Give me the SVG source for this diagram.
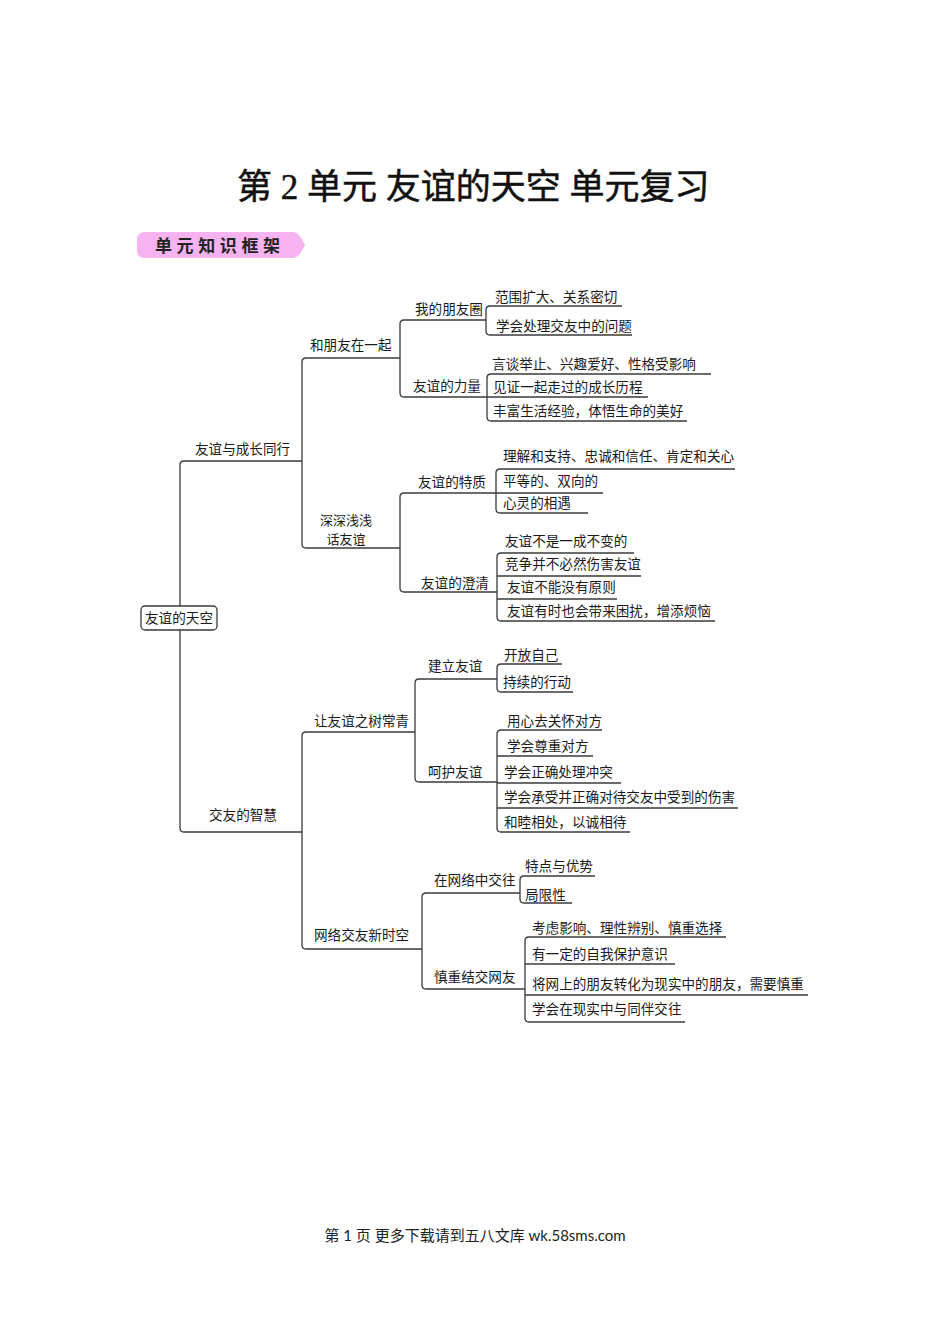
<svg xmlns="http://www.w3.org/2000/svg" width="950" height="1344" viewBox="0 0 950 1344">
<style>
.t{font-family:"Noto Sans CJK SC","Noto Sans",sans-serif;font-size:13.6px;fill:#1a1a1a}
.c{fill:none;stroke:#3a3a3a;stroke-width:1.3}
.u{stroke:#3a3a3a;stroke-width:1.3}
.title{font-family:"Liberation Serif","Noto Sans CJK SC",serif;font-size:35px;fill:#111;stroke:#111;stroke-width:0.5}
.foot{font-family:"Lato","Noto Sans CJK SC",sans-serif;font-size:15px;fill:#222}
</style>
<rect width="950" height="1344" fill="#fff"/>
<text class="title" x="237" y="199">第 2 单元 友谊的天空 单元复习</text>
<g id="badge">
<path d="M145,232 H293 Q299,232 305,245 Q299,258 293,258 H145 Q137,258 137,250 V240 Q137,232 145,232 Z" fill="#f6b3ef"/>
<text x="155" y="252" style="font-family:'Noto Sans CJK SC',sans-serif;font-size:17px;font-weight:bold;letter-spacing:4.6px;fill:#222">单元知识框架</text>
</g>
<g id="connectors">
<path class="c" d="M184,461 Q180,461 180,465 V828 Q180,832 184,832"/>
<path class="c" d="M306,358 Q302,358 302,362 V544 Q302,548 306,548"/>
<path class="c" d="M306,732 Q302,732 302,736 V945 Q302,949 306,949"/>
<path class="c" d="M404,320 Q400,320 400,324 V393 Q400,397 404,397"/>
<path class="c" d="M404,493 Q400,493 400,497 V588 Q400,592 404,592"/>
<path class="c" d="M419,679 Q415,679 415,683 V778 Q415,782 419,782"/>
<path class="c" d="M426,893 Q422,893 422,897 V985 Q422,989 426,989"/>
<path class="c" d="M490,306 Q486,306 486,310 V331 Q486,335 490,335"/>
<path class="c" d="M491,374 Q487,374 487,378 V417 Q487,421 491,421"/>
<path class="c" d="M500,469 Q496,469 496,473 V509 Q496,513 500,513"/>
<path class="c" d="M501,553 Q497,553 497,557 V617 Q497,621 501,621"/>
<path class="c" d="M501,664 Q497,664 497,668 V688 Q497,692 501,692"/>
<path class="c" d="M501,730 Q497,730 497,734 V828 Q497,832 501,832"/>
<path class="c" d="M524,876 Q520,876 520,880 V899 Q520,903 524,903"/>
<path class="c" d="M529,937 Q525,937 525,941 V1018 Q525,1022 529,1022"/>
</g>
<g id="root">
<rect x="141" y="606" width="76" height="24" rx="4" fill="#fff" stroke="#3a3a3a" stroke-width="1.3"/>
<text class="t" x="179" y="622.5" text-anchor="middle">友谊的天空</text>
</g>
<g id="n1"><line class="u" x1="184" y1="461" x2="302" y2="461"/><text class="t" x="195" y="453.5">友谊与成长同行</text></g>
<g id="n2"><line class="u" x1="184" y1="832" x2="302" y2="832"/><text class="t" x="209" y="820">交友的智慧</text></g>
<g id="n11"><line class="u" x1="306" y1="358" x2="400" y2="358"/><text class="t" x="310" y="350">和朋友在一起</text></g>
<g id="n12"><line class="u" x1="306" y1="548" x2="400" y2="548"/><text class="t" text-anchor="middle" style="font-size:13px"><tspan x="346" y="524.5">深深浅浅</tspan><tspan x="346" y="543.5">话友谊</tspan></text></g>
<g id="n21"><line class="u" x1="306" y1="732" x2="415" y2="732"/><text class="t" x="314" y="726">让友谊之树常青</text></g>
<g id="n22"><line class="u" x1="306" y1="949" x2="422" y2="949"/><text class="t" x="314" y="939.5">网络交友新时空</text></g>
<g id="n111"><line class="u" x1="404" y1="320" x2="486" y2="320"/><text class="t" x="415" y="314">我的朋友圈</text></g>
<g id="n112"><line class="u" x1="404" y1="397" x2="487" y2="397"/><text class="t" x="413" y="391">友谊的力量</text></g>
<g id="n121"><line class="u" x1="404" y1="493" x2="496" y2="493"/><text class="t" x="418" y="486.5">友谊的特质</text></g>
<g id="n122"><line class="u" x1="404" y1="592" x2="497" y2="592"/><text class="t" x="421" y="587.5">友谊的澄清</text></g>
<g id="n211"><line class="u" x1="419" y1="679" x2="497" y2="679"/><text class="t" x="428" y="670.5">建立友谊</text></g>
<g id="n212"><line class="u" x1="419" y1="782" x2="497" y2="782"/><text class="t" x="428" y="776.5">呵护友谊</text></g>
<g id="n221"><line class="u" x1="426" y1="893" x2="520" y2="893"/><text class="t" x="434" y="884.5">在网络中交往</text></g>
<g id="n222"><line class="u" x1="426" y1="989" x2="525" y2="989"/><text class="t" x="434" y="982">慎重结交网友</text></g>
<g id="l1"><line class="u" x1="490" y1="306" x2="622" y2="306"/><text class="t" x="495" y="301.5">范围扩大、关系密切</text></g>
<g id="l2"><line class="u" x1="490" y1="335" x2="632" y2="335"/><text class="t" x="496" y="330.5">学会处理交友中的问题</text></g>
<g id="l3"><line class="u" x1="491" y1="374" x2="711" y2="374"/><text class="t" x="492" y="368.5">言谈举止、兴趣爱好、性格受影响</text></g>
<g id="l4"><line class="u" x1="487" y1="397" x2="648" y2="397"/><text class="t" x="493" y="391.5">见证一起走过的成长历程</text></g>
<g id="l5"><line class="u" x1="491" y1="421" x2="687" y2="421"/><text class="t" x="493" y="416">丰富生活经验，体悟生命的美好</text></g>
<g id="l6"><line class="u" x1="500" y1="469" x2="735" y2="469"/><text class="t" x="503" y="460.5">理解和支持、忠诚和信任、肯定和关心</text></g>
<g id="l7"><line class="u" x1="496" y1="493" x2="603" y2="493"/><text class="t" x="503" y="485.5">平等的、双向的</text></g>
<g id="l8"><line class="u" x1="500" y1="513" x2="588" y2="513"/><text class="t" x="503" y="507.5">心灵的相遇</text></g>
<g id="l9"><line class="u" x1="501" y1="553" x2="634" y2="553"/><text class="t" x="505" y="545.5">友谊不是一成不变的</text></g>
<g id="l10"><line class="u" x1="497" y1="576" x2="641" y2="576"/><text class="t" x="505" y="569">竞争并不必然伤害友谊</text></g>
<g id="l11"><line class="u" x1="497" y1="599" x2="617" y2="599"/><text class="t" x="507" y="592">友谊不能没有原则</text></g>
<g id="l12"><line class="u" x1="501" y1="621" x2="715" y2="621"/><text class="t" x="507" y="615.5">友谊有时也会带来困扰，增添烦恼</text></g>
<g id="l13"><line class="u" x1="501" y1="664" x2="562" y2="664"/><text class="t" x="504" y="660">开放自己</text></g>
<g id="l14"><line class="u" x1="501" y1="692" x2="573" y2="692"/><text class="t" x="503" y="686.5">持续的行动</text></g>
<g id="l15"><line class="u" x1="501" y1="730" x2="602" y2="730"/><text class="t" x="507" y="725.5">用心去关怀对方</text></g>
<g id="l16"><line class="u" x1="497" y1="756" x2="593" y2="756"/><text class="t" x="507" y="750.5">学会尊重对方</text></g>
<g id="l17"><line class="u" x1="497" y1="783" x2="621" y2="783"/><text class="t" x="504" y="777">学会正确处理冲突</text></g>
<g id="l18"><line class="u" x1="497" y1="808" x2="738" y2="808"/><text class="t" x="504" y="802">学会承受并正确对待交友中受到的伤害</text></g>
<g id="l19"><line class="u" x1="501" y1="832" x2="630" y2="832"/><text class="t" x="504" y="827">和睦相处，以诚相待</text></g>
<g id="l20"><line class="u" x1="524" y1="876" x2="595" y2="876"/><text class="t" x="525" y="871">特点与优势</text></g>
<g id="l21"><line class="u" x1="524" y1="903" x2="572" y2="903"/><text class="t" x="525" y="899.5">局限性</text></g>
<g id="l22"><line class="u" x1="529" y1="937" x2="726" y2="937"/><text class="t" x="532" y="932.5">考虑影响、理性辨别、慎重选择</text></g>
<g id="l23"><line class="u" x1="525" y1="964" x2="675" y2="964"/><text class="t" x="532" y="958.5">有一定的自我保护意识</text></g>
<g id="l24"><line class="u" x1="525" y1="995" x2="808" y2="995"/><text class="t" x="532" y="988.5">将网上的朋友转化为现实中的朋友，需要慎重</text></g>
<g id="l25"><line class="u" x1="529" y1="1022" x2="685" y2="1022"/><text class="t" x="532" y="1014">学会在现实中与同伴交往</text></g>
<text class="foot" x="475" y="1241" text-anchor="middle">第 1 页 更多下载请到五八文库 wk.58sms.com</text>
</svg>
